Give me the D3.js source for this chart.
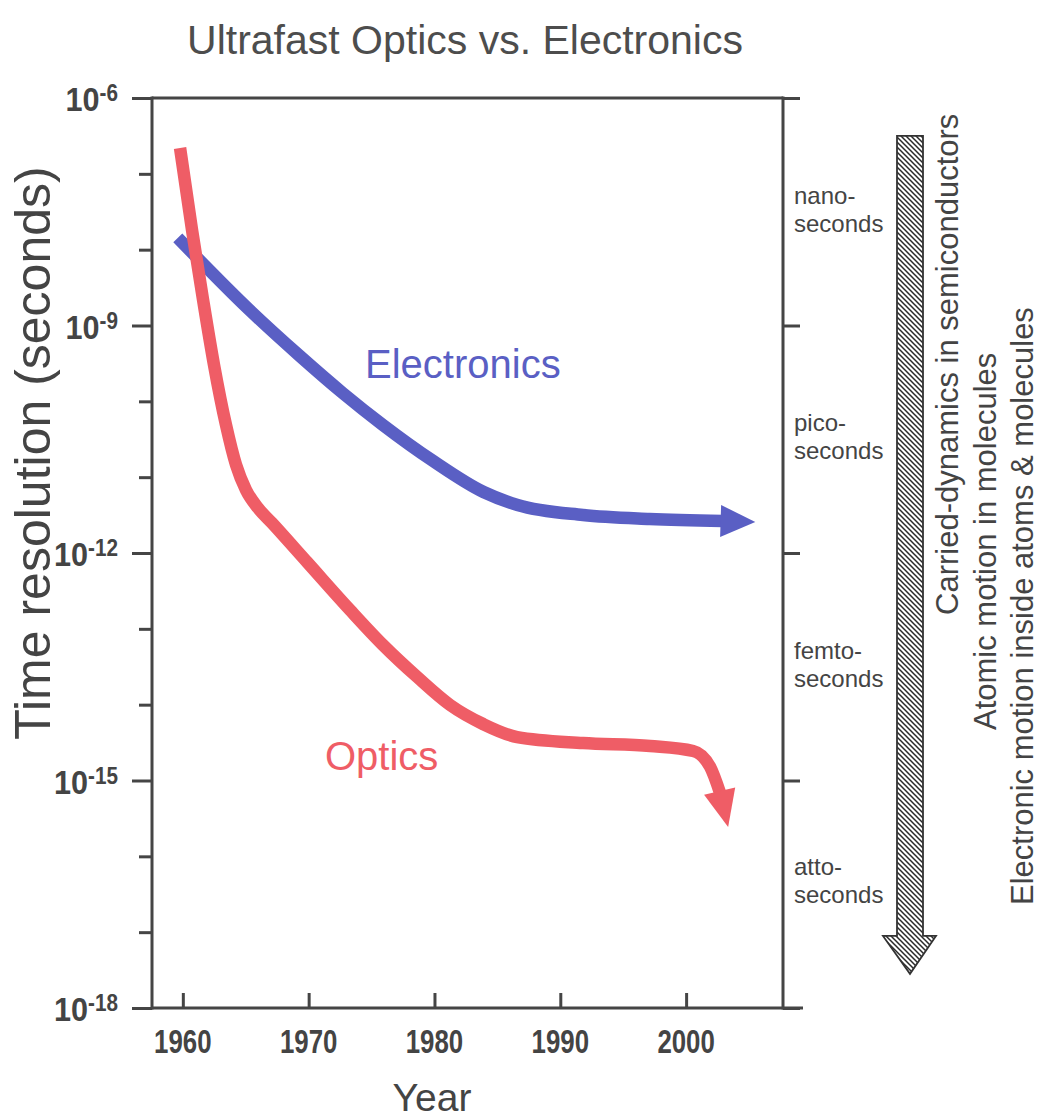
<!DOCTYPE html>
<html><head><meta charset="utf-8">
<script src="https://cdn.jsdelivr.net/npm/d3@7"></script>
<style>body{margin:0;background:#fff} svg{display:block}</style>
</head><body><svg id="c" width="1041" height="1120"></svg>
<script>
// ---- data ----
const electronicsYears  = [1959.6, 1965.3, 1969.3, 1972.7, 1975.9, 1979.9, 1983.9, 1986.6, 1991.8, 1997.1, 2002.9, 2005.5];
const electronicsValues = [1.43e-8, 1.60e-9, 3.96e-10, 1.29e-10, 4.88e-11, 1.63e-11, 6.37e-12, 4.30e-12, 3.17e-12, 2.81e-12, 2.64e-12, 2.56e-12];
const opticsYears  = [1959.78, 1960.73, 1961.61, 1962.48, 1963.43, 1964.23, 1965.02, 1965.98, 1967.09, 1969.87, 1973.29, 1975.91, 1978.62, 1981.24, 1983.86, 1986.57, 1991.81, 1997.14, 2000.56, 2001.91, 2002.7, 2003.34];
const opticsValues = [2.19e-7, 1.82e-8, 2.17e-9, 3.01e-10, 4.88e-11, 1.45e-11, 6.78e-12, 3.92e-12, 2.48e-12, 7.60e-13, 1.77e-13, 6.12e-14, 2.32e-14, 9.9e-15, 5.56e-15, 3.74e-15, 3.12e-15, 2.85e-15, 2.45e-15, 1.51e-15, 6.84e-16, 2.43e-16];
const yearTicks = [1960, 1970, 1980, 1990, 2000];
const majorExponents = [-6, -9, -12, -15, -18];
const minorExponents = [-7, -8, -10, -11, -13, -14, -16, -17];
const unitPrefixes = ["nano-", "pico-", "femto-", "atto-"];
const unitExponents = [-7.5, -10.5, -13.5, -16.35];
const phenomena = ["Carried-dynamics in semiconductors", "Atomic motion in molecules", "Electronic motion inside atoms & molecules"];
const phenomenaRange = [-6.5, -17.05, -17.55]; // hatched arrow: top, shaft end, tip (exponents)

// ---- layout ----
const L = 152, R = 783, T = 98, B = 1008;
const axisColor = "#454545", textColor = "#444";
const blue = "#5a5fc4", red = "#ef5d66";
const font = "'Liberation Sans', Arial, sans-serif";

const svg = d3.select("#c");
const x = d3.scaleLinear().domain([1957.55, 2007.7]).range([L, R]);
const y = d3.scaleLog().domain([1e-18, 1e-6]).range([B, T]);
const p10 = e => Math.pow(10, e);

// title
svg.append("text").attr("x", 465).attr("y", 54).attr("text-anchor", "middle")
  .attr("font-family", font).attr("font-size", 41).attr("fill", "#4d4d4d")
  .text("Ultrafast Optics vs. Electronics");

// axes
const leftMajor = d3.axisLeft(y).tickValues(majorExponents.map(p10)).tickSize(20).tickFormat("");
const leftMinor = d3.axisLeft(y).tickValues(minorExponents.map(p10)).tickSize(13).tickFormat("");
const rightMajor = d3.axisRight(y).tickValues(majorExponents.map(p10)).tickSize(17).tickFormat("");
const bottom = d3.axisBottom(x).tickValues(yearTicks).tickSize(-15).tickFormat("");

function styleAxis(g) {
  g.select(".domain").remove();
  g.selectAll(".tick line").attr("stroke", axisColor).attr("stroke-width", 3);
}
svg.append("g").attr("transform", `translate(${L},0)`).call(leftMajor).call(styleAxis);
svg.append("g").attr("transform", `translate(${L},0)`).call(leftMinor).call(styleAxis);
svg.append("g").attr("transform", `translate(${R},0)`).call(rightMajor).call(styleAxis);
svg.append("g").attr("transform", `translate(0,${B})`).call(bottom).call(styleAxis);
const gAx = svg.append("g").attr("stroke", axisColor).attr("stroke-width", 3).attr("fill", "none");
gAx.append("line").attr("x1", L).attr("x2", L).attr("y1", T - 1.5).attr("y2", B + 1.5);
gAx.append("line").attr("x1", R).attr("x2", R).attr("y1", T - 1.5).attr("y2", B + 1.5);
gAx.append("line").attr("x1", L).attr("x2", R).attr("y1", T).attr("y2", T);
gAx.append("line").attr("x1", L).attr("x2", R + 20).attr("y1", B).attr("y2", B);

// y tick labels (condensed bold)
majorExponents.forEach(e => {
  const t = svg.append("text").attr("transform", `translate(118,${y(p10(e)) + 13}) scale(0.9,1)`)
    .attr("text-anchor", "end").attr("font-family", font).attr("font-weight", "bold")
    .attr("fill", textColor);
  t.append("tspan").attr("font-size", 34).text("10");
  t.append("tspan").attr("font-size", 23).attr("dy", -10).text(String(e));
});

// x tick labels (condensed bold)
yearTicks.forEach(v => {
  svg.append("text").attr("transform", `translate(${x(v)},1053) scale(0.76,1)`).attr("text-anchor", "middle")
    .attr("font-family", font).attr("font-weight", "bold").attr("font-size", 34)
    .attr("fill", textColor).text(v);
});

// axis titles
svg.append("text").attr("x", 432).attr("y", 1111).attr("text-anchor", "middle")
  .attr("font-family", font).attr("font-size", 39).attr("fill", textColor).text("Year");
svg.append("text").attr("transform", `translate(50,453) rotate(-90)`).attr("text-anchor", "middle")
  .attr("font-family", font).attr("font-size", 50).attr("fill", textColor).text("Time resolution (seconds)");

// unit labels on right axis
unitPrefixes.forEach((p, i) => {
  const cy = y(p10(unitExponents[i]));
  svg.append("text").attr("x", 794).attr("y", cy - 8).attr("font-family", font).attr("font-size", 24)
    .attr("fill", textColor).text(p);
  svg.append("text").attr("x", 794).attr("y", cy + 20).attr("font-family", font).attr("font-size", 24)
    .attr("fill", textColor).text("seconds");
});

// hatched arrow
const defs = svg.append("defs");
const pat = defs.append("pattern").attr("id", "hatch").attr("patternUnits", "userSpaceOnUse")
  .attr("width", 5).attr("height", 5);
pat.append("rect").attr("width", 5).attr("height", 5).attr("fill", "#fff");
pat.append("path").attr("d", "M0,0 L5,5 M-1,4 L1,6 M4,-1 L6,1").attr("stroke", "#2a2a2a").attr("stroke-width", 1.5);
const ax0 = 897, ax1 = 923, hx0 = 883, hx1 = 936;
const yTop = y(p10(phenomenaRange[0])), yShaft = y(p10(phenomenaRange[1])), yTip = y(p10(phenomenaRange[2]));
svg.append("path").attr("d", `M${ax0},${yTop} L${ax1},${yTop} L${ax1},${yShaft} L${hx1},${yShaft} L${(ax0+ax1)/2},${yTip} L${hx0},${yShaft} L${ax0},${yShaft} Z`)
  .attr("fill", "url(#hatch)").attr("stroke", "#333").attr("stroke-width", 1.8);

// phenomena labels (rotated)
const phenPos = [[958, 615], [996, 730], [1033, 905]];
phenomena.forEach((t, i) => {
  svg.append("text").attr("transform", `translate(${phenPos[i][0]},${phenPos[i][1]}) rotate(-90)`)
    .attr("font-family", font).attr("font-size", 31).attr("fill", textColor).text(t);
});

// series
function drawSeries(years, values, color, headHalf) {
  const pts = years.map((yr, i) => [x(yr), y(values[i])]);
  const body = pts.slice(0, pts.length - 1);
  const line = d3.line().curve(d3.curveMonotoneX);
  svg.append("path").attr("d", line(body)).attr("fill", "none").attr("stroke", color)
    .attr("stroke-width", 12.5).attr("stroke-linejoin", "round");
  const base = pts[pts.length - 2], tip = pts[pts.length - 1];
  const dx = tip[0] - base[0], dy = tip[1] - base[1], len = Math.hypot(dx, dy);
  const nx = -dy / len, ny = dx / len;
  const bx = base[0] - dx / len * 2, by = base[1] - dy / len * 2;
  svg.append("path").attr("d", `M${tip[0]},${tip[1]} L${bx + nx * headHalf},${by + ny * headHalf} L${bx - nx * headHalf},${by - ny * headHalf} Z`)
    .attr("fill", color);
}
drawSeries(electronicsYears, electronicsValues, blue, 16);
drawSeries(opticsYears, opticsValues, red, 16);

svg.append("text").attr("x", 365).attr("y", 378).attr("font-family", font).attr("font-size", 40)
  .attr("fill", blue).text("Electronics");
svg.append("text").attr("x", 325).attr("y", 770).attr("font-family", font).attr("font-size", 40)
  .attr("fill", red).text("Optics");
</script></body></html>
